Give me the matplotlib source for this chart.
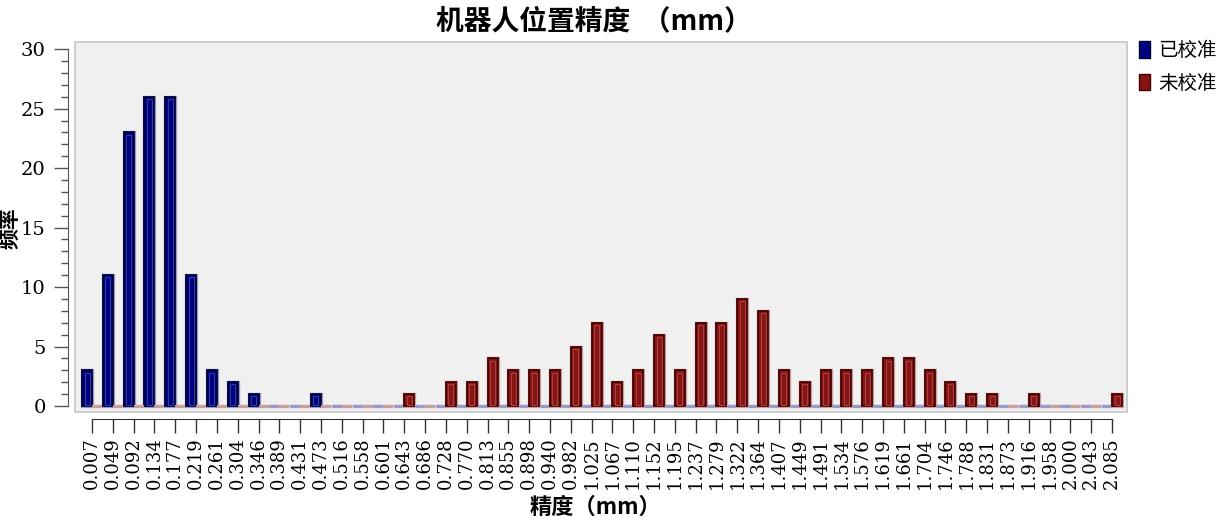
import matplotlib.pyplot as plt
from matplotlib.patches import Patch, Rectangle
import numpy as np

plt.rcParams['font.family'] = ['Noto Sans CJK SC', 'DejaVu Sans']

labels = ["0.007", "0.049", "0.092", "0.134", "0.177", "0.219", "0.261", "0.304",
          "0.346", "0.389", "0.431", "0.473", "0.516", "0.558", "0.601", "0.643",
          "0.686", "0.728", "0.770", "0.813", "0.855", "0.898", "0.940", "0.982",
          "1.025", "1.067", "1.110", "1.152", "1.195", "1.237", "1.279", "1.322",
          "1.364", "1.407", "1.449", "1.491", "1.534", "1.576", "1.619", "1.661",
          "1.704", "1.746", "1.788", "1.831", "1.873", "1.916", "1.958", "2.000",
          "2.043", "2.085"]

calibrated = [3, 11, 23, 26, 26, 11, 3, 2, 1, 0, 0, 1, 0, 0, 0, 0,
              0, 0, 0, 0, 0, 0, 0, 0, 0, 0, 0, 0, 0, 0, 0, 0,
              0, 0, 0, 0, 0, 0, 0, 0, 0, 0, 0, 0, 0, 0, 0, 0, 0, 0]

uncalibrated = [0, 0, 0, 0, 0, 0, 0, 0, 0, 0, 0, 0, 0, 0, 0, 1,
                0, 2, 2, 4, 3, 3, 3, 5, 7, 2, 3, 6, 3, 7, 7, 9,
                8, 3, 2, 3, 3, 3, 4, 4, 3, 2, 1, 1, 0, 1, 0, 0, 0, 1]

series = [
    ("已校准", calibrated, -1, "#000080", "#000038", "#9a9ac8", "#2f3d9a"),
    ("未校准", uncalibrated, 1, "#861414", "#480000", "#c8a0a0", "#a84040"),
]

fig = plt.figure(figsize=(12.18, 5.26), dpi=100)
ax = fig.add_axes([75 / 1218, (526 - 412) / 526, (1127 - 75) / 1218, (412 - 42) / 526])
ax.set_facecolor("#f0f0f0")

x = np.arange(len(labels))
w = 0.48

for name, vals, side, fill, edge, halo, inner in series:
    vals = np.array(vals, dtype=float)
    pos = x + side * w / 2
    nz = vals > 0
    # soft halo around each bar (also gives the light baseline for empty bins)
    ax.bar(pos, vals, w, facecolor="none", edgecolor=halo, linewidth=2.4, zorder=2)
    ax.bar(pos, vals, w, color=fill, edgecolor=[edge if v else halo for v in nz],
           linewidth=[1.3 if v else 1.5 for v in nz], zorder=3)
    # inner highlight
    ax.bar(pos, np.where(nz, vals - 0.3, 0), w * 0.5, bottom=0.12,
           facecolor="none", edgecolor=inner, linewidth=np.where(nz, 0.8, 0), zorder=4)

ax.set_xlim(-0.817, 49.72)
ax.set_ylim(-0.5, 30.6)

for s in ["top", "right"]:
    ax.spines[s].set_visible(False)
ax.spines["left"].set_position(("outward", 5))
ax.spines["left"].set_bounds(0, 30)
ax.spines["bottom"].set_position(("outward", 5))
ax.spines["bottom"].set_bounds(0, 49)
ax.spines["left"].set_color("#555555")
ax.spines["bottom"].set_color("#333333")
ax.add_patch(Rectangle((0, 0), 1, 1, transform=ax.transAxes, fill=False,
                       edgecolor="#c4c4c4", linewidth=1.2, clip_on=False, zorder=1))

ax.set_xticks(x)
ax.set_xticklabels(labels, rotation=90, family="DejaVu Serif", fontsize=13)
ax.set_yticks(range(0, 31, 5))
ax.set_yticks(range(0, 31), minor=True)
ax.tick_params(axis="y", which="major", length=10, width=1, color="#555555",
               labelsize=14, pad=6)
ax.tick_params(axis="y", which="minor", length=5, width=1, color="#555555")
ax.tick_params(axis="x", length=10, width=1, color="#333333", pad=3)
for t in ax.get_yticklabels():
    t.set_family("DejaVu Serif")

fig.text(10 / 1218, 1 - 228 / 526, "频率", rotation=90, ha="center", va="center",
         fontsize=15, fontweight="bold")
fig.text(596 / 1218, 1 - 507 / 526, "精度（mm）", ha="center", va="center",
         fontsize=16, fontweight="bold")
fig.text(594 / 1218, 1 - 21 / 526, "机器人位置精度  （mm）", ha="center", va="center",
         fontsize=20, fontweight="bold")

handles = [Patch(facecolor=s[3], edgecolor=s[4], label=s[0]) for s in series]
fig.legend(handles=handles, loc="upper left", bbox_to_anchor=(1139 / 1218, 1 - 40 / 526),
           frameon=False, fontsize=14, handlelength=0.55, handleheight=0.95,
           handletextpad=0.45, labelspacing=0.6, borderpad=0, borderaxespad=0)

fig.savefig("out.png", dpi=100)
